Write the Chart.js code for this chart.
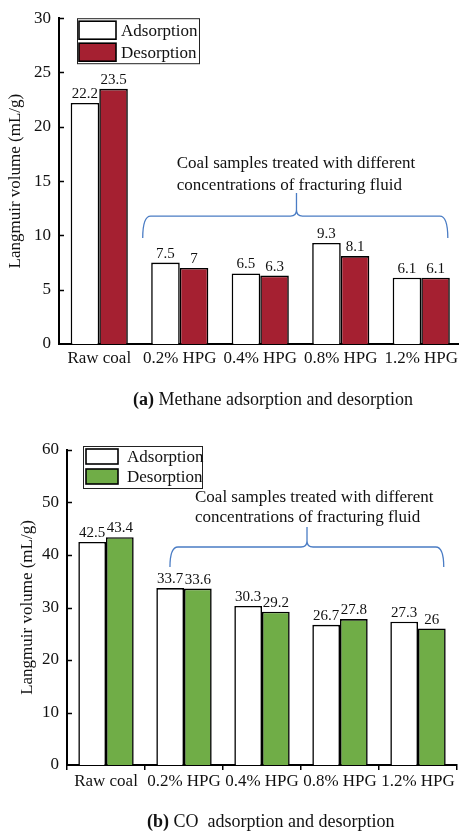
<!DOCTYPE html>
<html>
<head>
<meta charset="utf-8">
<script src="https://cdn.jsdelivr.net/npm/chart.js@4.4.0/dist/chart.umd.min.js"></script>
<style>
  html, body { margin: 0; padding: 0; background: #fff; overflow: hidden; width: 459px; height: 832px; }
  .box { position: absolute; left: 0; overflow: hidden; }
  #b1 { top: 0; width: 459px; height: 416px; }
  #b2 { top: 416px; width: 459px; height: 416px; }
  canvas { display: block; }
</style>
</head>
<body>
<div class="box" id="b1"><canvas id="c1" width="463" height="416"></canvas></div>
<div class="box" id="b2"><canvas id="c2" width="459" height="416"></canvas></div>
<script>
// ---- data ----
const categories = ['Raw coal', '0.2% HPG', '0.4% HPG', '0.8% HPG', '1.2% HPG'];
const seriesNames = ['Adsorption', 'Desorption'];
const methaneAdsorption = [22.2, 7.5, 6.5, 9.3, 6.1];
const methaneDesorption = [23.5, 7, 6.3, 8.1, 6.1];
const coAdsorption = [42.5, 33.7, 30.3, 26.7, 27.3];
const coDesorption = [43.4, 33.6, 29.2, 27.8, 26];
const methaneYTicks = [0, 5, 10, 15, 20, 25, 30];
const coYTicks = [0, 10, 20, 30, 40, 50, 60];
const yTitle = 'Langmuir volume (mL/g)';
const noteLines = ['Coal samples treated with different', 'concentrations of fracturing fluid'];

const SERIF = '"Liberation Serif", "Times New Roman", serif';

// ---- plugins ----
const valueLabels = {
  id: 'valueLabels',
  afterDatasetsDraw(chart) {
    const ctx = chart.ctx;
    ctx.save();
    ctx.font = '15px ' + SERIF;
    ctx.fillStyle = '#111';
    ctx.textAlign = 'center';
    ctx.textBaseline = 'alphabetic';
    chart.data.datasets.forEach((ds, di) => {
      const meta = chart.getDatasetMeta(di);
      meta.data.forEach((el, i) => {
        ctx.fillText(String(ds.data[i]), el.x, el.y - 5);
      });
    });
    ctx.restore();
  }
};

const innerYTicks = {
  id: 'innerYTicks',
  afterDraw(chart) {
    const y = chart.scales.y, ca = chart.chartArea, ctx = chart.ctx;
    ctx.save();
    ctx.strokeStyle = '#000';
    ctx.lineWidth = 1.5;
    y.ticks.forEach(t => {
      if (t.value === 0) return;
      const py = Math.round(y.getPixelForValue(t.value)) + 0.5;
      ctx.beginPath();
      ctx.moveTo(ca.left, py);
      ctx.lineTo(ca.left + 5, py);
      ctx.stroke();
    });
    ctx.restore();
  }
};

const customLegend = {
  id: 'customLegend',
  afterDraw(chart, args, o) {
    const ctx = chart.ctx, ca = chart.chartArea;
    const L = ca.left + o.dx, T = ca.top + o.dy;
    ctx.save();
    ctx.fillStyle = '#fff';
    ctx.fillRect(L, T, o.w, o.h);
    ctx.strokeStyle = '#222';
    ctx.lineWidth = 1;
    ctx.strokeRect(L + 0.5, T + 0.5, o.w, o.h);
    chart.data.datasets.forEach((ds, i) => {
      const sy = T + o.sy[i];
      ctx.fillStyle = ds.backgroundColor;
      ctx.fillRect(L + o.sx, sy, o.sw, o.sh);
      ctx.strokeStyle = '#000';
      ctx.lineWidth = 1.6;
      ctx.strokeRect(L + o.sx, sy, o.sw, o.sh);
      ctx.fillStyle = '#111';
      ctx.font = '17px ' + SERIF;
      ctx.textBaseline = 'middle';
      ctx.textAlign = 'left';
      ctx.fillText(ds.label, L + o.tx, sy + o.sh / 2 + 1);
    });
    ctx.restore();
  }
};

const braceNote = {
  id: 'braceNote',
  afterDraw(chart, args, o) {
    const ctx = chart.ctx, xs = chart.scales.x, ys = chart.scales.y;
    const X = v => xs.getPixelForValue(v), Y = v => ys.getPixelForValue(v);
    ctx.save();
    ctx.fillStyle = '#111';
    ctx.font = '17px ' + SERIF;
    ctx.textAlign = 'left';
    ctx.textBaseline = 'middle';
    noteLines.forEach((ln, i) => ctx.fillText(ln, X(o.textX), Y(o.textY[i])));
    const x0 = X(o.x0), x1 = X(o.x1), xm = X(o.xm);
    const yE = Y(o.yEnd), yH = Y(o.yH), yP = Y(o.yPeak);
    const r = 8, rm = 6;
    ctx.strokeStyle = '#4a7cc4';
    ctx.lineWidth = 1.3;
    ctx.beginPath();
    ctx.moveTo(x0, yE);
    ctx.quadraticCurveTo(x0, yH, x0 + r, yH);
    ctx.lineTo(xm - rm, yH);
    ctx.quadraticCurveTo(xm, yH, xm, yH - rm);
    ctx.lineTo(xm, yP);
    ctx.moveTo(xm, yH - rm);
    ctx.quadraticCurveTo(xm, yH, xm + rm, yH);
    ctx.lineTo(x1 - r, yH);
    ctx.quadraticCurveTo(x1, yH, x1, yE);
    ctx.stroke();
    ctx.restore();
  }
};

const caption = {
  id: 'caption',
  afterDraw(chart, args, o) {
    const ctx = chart.ctx, ca = chart.chartArea;
    const x = ca.left + o.dx, y = o.y;
    ctx.save();
    ctx.fillStyle = '#111';
    ctx.textBaseline = 'middle';
    ctx.textAlign = 'left';
    ctx.font = 'bold 18px ' + SERIF;
    ctx.fillText(o.bold, x, y);
    const w = ctx.measureText(o.bold).width;
    ctx.font = '18px ' + SERIF;
    ctx.fillText(o.text, x + w, y);
    ctx.restore();
  }
};

function makeChart(id, adsorption, desorption, yTicks, color, cfg) {
  const step = yTicks[1] - yTicks[0];
  return new Chart(document.getElementById(id), {
    type: 'bar',
    data: {
      labels: categories,
      datasets: [
        { label: seriesNames[0], data: adsorption, backgroundColor: '#ffffff', borderColor: '#000', borderWidth: 1.6 },
        { label: seriesNames[1], data: desorption, backgroundColor: color, borderColor: '#000', borderWidth: 1.6 }
      ]
    },
    options: {
      responsive: false,
      animation: false,
      devicePixelRatio: 1,
      categoryPercentage: 0.71,
      barPercentage: 1.0,
      layout: { padding: cfg.padding },
      plugins: {
        legend: { display: false },
        tooltip: { enabled: false },
        customLegend: cfg.legend,
        braceNote: cfg.brace,
        caption: cfg.caption
      },
      scales: {
        x: {
          afterFit: s => { s.height = 30; },
          grid: cfg.xGrid,
          border: { display: true, color: '#000', width: 2 },
          ticks: { color: '#111', font: { family: SERIF, size: 17 }, maxRotation: 0, autoSkip: false, padding: cfg.xPad }
        },
        y: {
          min: yTicks[0],
          max: yTicks[yTicks.length - 1],
          afterFit: s => { s.width = cfg.yWidth; },
          grid: { display: false, drawTicks: false },
          border: { display: true, color: '#000', width: 2 },
          ticks: { stepSize: step, color: '#111', font: { family: SERIF, size: 17 }, padding: cfg.yPad },
          title: { display: true, text: yTitle, color: '#111', font: { family: SERIF, size: 17 }, padding: { top: cfg.titlePad, bottom: 0 } }
        }
      }
    },
    plugins: [valueLabels, innerYTicks, customLegend, braceNote, caption]
  });
}

makeChart('c1', methaneAdsorption, methaneDesorption, methaneYTicks, '#a52031', {
  padding: { top: 18, right: 1.5, bottom: 42, left: 0 },
  yWidth: 59,
  yPad: 8,
  titlePad: 5,
  xPad: 4,
  xGrid: { display: false, drawTicks: false },
  legend: { dx: 18, dy: 0, w: 122, h: 45, sx: 2, sw: 37, sh: 18, sy: [3, 25], tx: 44 },
  brace: { textX: 0.963, textY: [16.66, 14.63], x0: 0.54, x1: 4.33, xm: 2.45, yEnd: 9.75, yH: 11.78, yPeak: 13.9 },
  caption: { dx: 74, y: 400, bold: '(a)', text: ' Methane adsorption and desorption' }
});

makeChart('c2', coAdsorption, coDesorption, coYTicks, '#70ad47', {
  padding: { top: 34, right: 2, bottom: 37, left: 0 },
  yWidth: 67,
  yPad: 8,
  titlePad: 17,
  xPad: 1,
  xGrid: { display: true, drawOnChartArea: false, drawTicks: true, tickLength: 5, color: '#000', lineWidth: 1.5, offset: true },
  legend: { dx: 16, dy: -4, w: 119, h: 42, sx: 3, sw: 32, sh: 15, sy: [3, 23], tx: 44 },
  brace: { textX: 1.141, textY: [50.86, 47.05], x0: 0.82, x1: 4.33, xm: 2.577, yEnd: 37.71, yH: 41.52, yPeak: 45.33 },
  caption: { dx: 80, y: 406, bold: '(b)', text: ' CO  adsorption and desorption' }
});
</script>
</body>
</html>
